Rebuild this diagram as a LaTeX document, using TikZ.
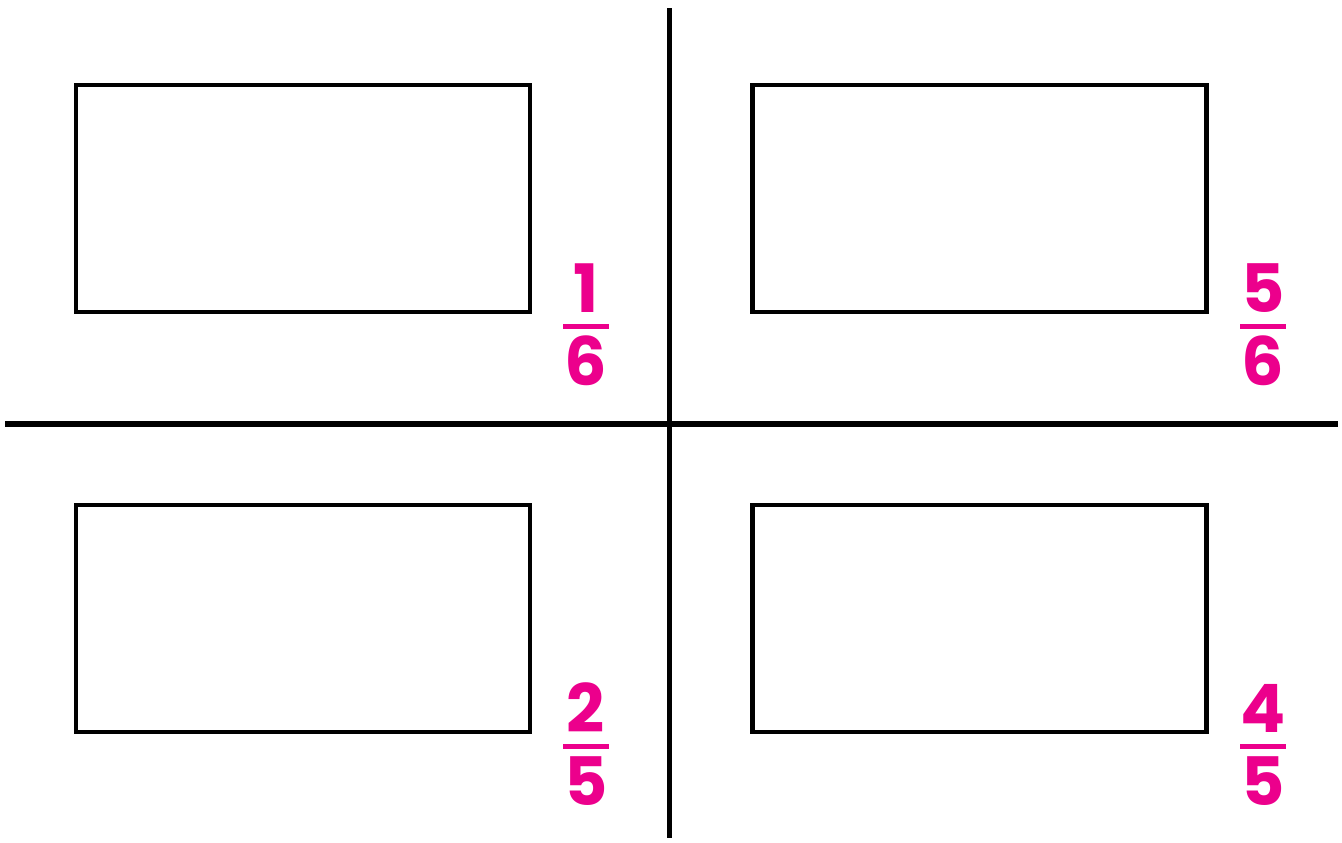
\documentclass[tikz,border=0pt]{standalone}
\usepackage{fontspec}
\setmainfont{Poppins}
\usepackage{xcolor}
\usepackage{tikz}
\usetikzlibrary{positioning, calc}
\definecolor{fracpink}{HTML}{EC008C}

\begin{document}
\begin{tikzpicture}[
    axis/.style={line width=1.6pt},
    card/.style={draw, line width=1.25pt, minimum width=4.54cm,
                 minimum height=2.27cm, inner sep=0pt},
    digit/.style={text=fracpink, font=\fontsize{19}{19}\selectfont\bfseries,
                  inner sep=0pt},
    bar/.style={draw=fracpink, line width=1.15pt},
]
\useasboundingbox (0,0) rectangle (13.42,8.42);

% the cross
\coordinate (vTop) at (6.695, 8.34);
\coordinate (vBot) at (6.695, 0.04);
\coordinate (hL)   at (0.05, 4.18);
\coordinate (hR)   at (13.38, 4.18);
\draw[axis] (vTop) -- (vBot);
\draw[axis] (hL) -- (hR);

% empty cards
\node[card] (cardTL) at (3.03, 6.435) {};
\node[card] (cardTR) at (9.795, 6.435) {};
\node[card] (cardBL) at (3.03, 2.235) {};
\node[card] (cardBR) at (9.795, 2.235) {};

% fractions
\node[digit] (numTL) at (5.86, 5.54) {1};
\node[digit] (denTL) at (5.86, 4.81) {6};
\draw[bar] ($(numTL)!0.5!(denTL)+(-0.23,-0.02)$) -- ++(0.46,0);

\node[digit] (numTR) at (12.63, 5.54) {5};
\node[digit] (denTR) at (12.63, 4.81) {6};
\draw[bar] ($(numTR)!0.5!(denTR)+(-0.23,-0.02)$) -- ++(0.46,0);

\node[digit] (numBL) at (5.86, 1.34) {2};
\node[digit] (denBL) at (5.86, 0.61) {5};
\draw[bar] ($(numBL)!0.5!(denBL)+(-0.23,-0.02)$) -- ++(0.46,0);

\node[digit] (numBR) at (12.63, 1.34) {4};
\node[digit] (denBR) at (12.63, 0.61) {5};
\draw[bar] ($(numBR)!0.5!(denBR)+(-0.23,-0.02)$) -- ++(0.46,0);
\end{tikzpicture}
\end{document}
